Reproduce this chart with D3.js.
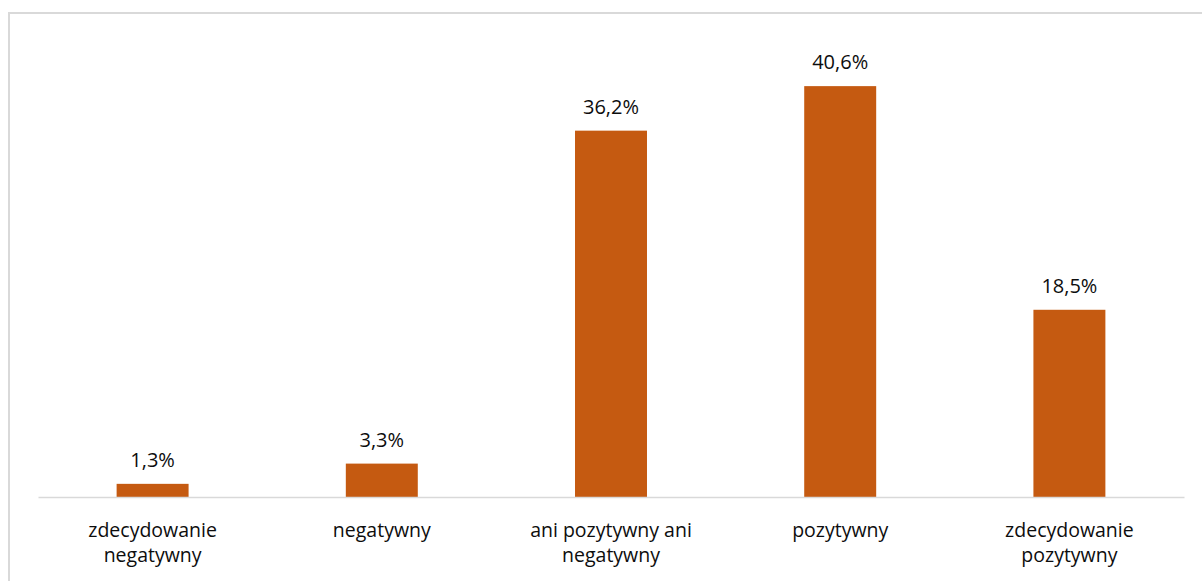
<!DOCTYPE html>
<html>
<head>
<meta charset="utf-8">
<script src="https://cdn.jsdelivr.net/npm/d3@7"></script>
<style>
  html, body { margin: 0; padding: 0; background: #fff; }
  svg { display: block; }
</style>
</head>
<body>
<svg id="chart" width="1202" height="581"></svg>
<script>
// Ocena (odsetek odpowiedzi)
const categories = [
  ["zdecydowanie", "negatywny"],
  ["negatywny"],
  ["ani pozytywny ani", "negatywny"],
  ["pozytywny"],
  ["zdecydowanie", "pozytywny"]
];
const values = [1.3, 3.3, 36.2, 40.6, 18.5];
const valueLabels = ["1,3%", "3,3%", "36,2%", "40,6%", "18,5%"];

const svg = d3.select("#chart");
const FONT = "'Open Sans', sans-serif";

// chart area frame
svg.append("rect")
  .attr("x", 9).attr("y", 13)
  .attr("width", 1200).attr("height", 600)
  .attr("fill", "#fff")
  .attr("stroke", "#d9d9d9")
  .attr("stroke-width", 2);

const x0 = 38, x1 = 1184, baseY = 497;
const idx = categories.map((_, i) => i);

const x = d3.scaleBand()
  .domain(idx)
  .range([x0, x1])
  .paddingInner(0.686)
  .paddingOuter(0.343);

const y = d3.scaleLinear()
  .domain([0, 45])
  .range([baseY, baseY - 455.4]);

// bars
svg.append("g").selectAll("rect")
  .data(values)
  .join("rect")
  .attr("x", (d, i) => x(i))
  .attr("y", d => y(d))
  .attr("width", x.bandwidth())
  .attr("height", d => y(0) - y(d))
  .attr("fill", "#c55a11");

// category axis
const axis = svg.append("g")
  .attr("transform", `translate(0,${baseY})`)
  .call(d3.axisBottom(x).tickSize(0).tickFormat(""));
axis.select(".domain")
  .attr("stroke", "#d9d9d9")
  .attr("stroke-width", 1.5);

// category labels (wrapped)
const labels = svg.append("g")
  .selectAll("text")
  .data(categories)
  .join("text")
  .attr("text-anchor", "middle")
  .attr("font-family", FONT)
  .attr("font-size", 19.5)
  .attr("fill", "#0d0d0d");
labels.each(function(lines, i) {
  const t = d3.select(this);
  lines.forEach((ln, k) => {
    t.append("tspan")
      .attr("x", x(i) + x.bandwidth() / 2)
      .attr("y", baseY + 40 + k * 25)
      .text(ln);
  });
});

// value labels
svg.append("g").selectAll("text")
  .data(values)
  .join("text")
  .attr("x", (d, i) => x(i) + x.bandwidth() / 2)
  .attr("y", d => y(d) - 17)
  .attr("text-anchor", "middle")
  .attr("font-family", FONT)
  .attr("font-size", 20)
  .attr("fill", "#0d0d0d")
  .text((d, i) => valueLabels[i]);
</script>
</body>
</html>
